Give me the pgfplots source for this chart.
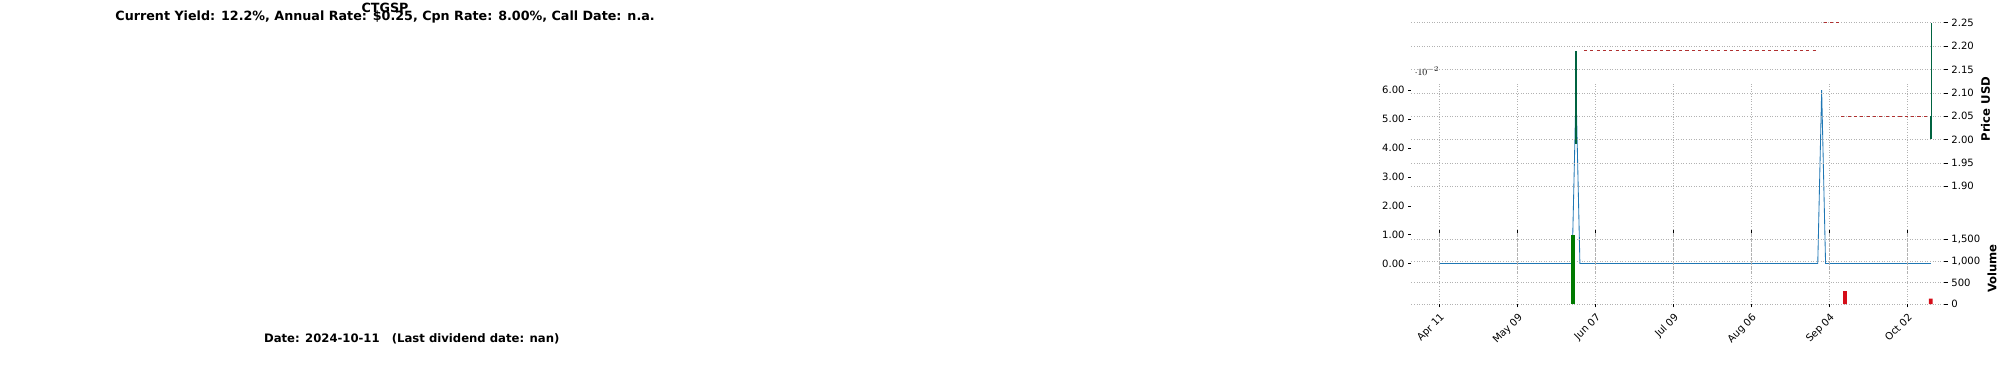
\documentclass[border=0pt]{standalone}
\usepackage{pgfplots}
\pgfplotsset{compat=1.18}
\usepackage{fontspec}
\setmainfont{DejaVu Sans}
\definecolor{myblue}{HTML}{1F77B4}
\definecolor{candle}{HTML}{006340}
\definecolor{volg}{HTML}{007A00}
\definecolor{volr}{HTML}{D50D18}
\definecolor{dred}{HTML}{B03030}
\begin{document}
\begin{tikzpicture}[x=0.36pt,y=0.36pt]
\path (0,0) rectangle (2000,1000);
\pgfplotsset{every axis/.append style={scale only axis, width=503.3pt,
  axis line style={draw=none}, tick align=outside, major tick length=3pt,
  tick style={black,line width=0.4pt},
  grid style={gray!60,dotted,line width=0.4pt},
  xmin=-7.2, xmax=129.5, xtick={0,20,...,120},
  ticklabel style={font=\fontsize{9.5}{11}\selectfont},
  /pgf/number format/assume math mode=true}}
% yield axis
\begin{axis}[at={(362,380)},anchor=south west,height=180pt,
  ymin=-0.003, ymax=0.063, ytick={0,0.01,0.02,0.03,0.04,0.05,0.06},
  yticklabel style={/pgf/number format/fixed,/pgf/number format/fixed zerofill,/pgf/number format/precision=2},
  xmajorgrids, xticklabels={}, xtick style={draw=none}, axis y line*=left]
\addplot[myblue,line width=0.8pt] coordinates {(0,0)(34,0)(35,0.06)(36,0)(97,0)(98,0.06)(99,0)(126,0)};
\end{axis}
% price axis
\begin{axis}[at={(362,380)},anchor=south west,height=180pt,
  ymin=1.861, ymax=2.269, ytick={1.90,1.95,2.00,2.05,2.10,2.15,2.20,2.25},
  yticklabel style={/pgf/number format/fixed,/pgf/number format/fixed zerofill,/pgf/number format/precision=2},
  ymajorgrids, axis y line*=right, xticklabels={}, xtick style={draw=none},
  ylabel={\bfseries Price USD}, ylabel style={font=\fontsize{11}{13}\selectfont}]
\addplot[dred,dashed,line width=0.4pt] coordinates {(37,2.19)(97,2.19)};
\addplot[dred,dashed,line width=0.4pt] coordinates {(98.5,2.25)(102.5,2.25)};
\addplot[dred,dashed,line width=0.4pt] coordinates {(103,2.05)(125,2.05)};
\addplot[candle,line width=2.2pt] coordinates {(35,1.99)(35,2.19)};
\addplot[candle,line width=0.5pt] coordinates {(126,2.05)(126,2.25)};
\addplot[candle,line width=2.2pt] coordinates {(126,2.00)(126,2.05)};
\end{axis}
% volume axis
\begin{axis}[at={(362,180)},anchor=south west,height=67.3pt,
  ymin=0, ymax=1650, ytick={0,500,1000,1500}, ymajorgrids, xmajorgrids,
  axis y line*=right, ylabel={\bfseries Volume}, ylabel style={font=\fontsize{11}{13}\selectfont},
  xticklabels={Apr 11,May 09,Jun 07,Jul 09,Aug 06,Sep 04,Oct 02},
  xticklabel style={rotate=45,anchor=north east},
  ybar, bar width=3.6pt]
\addplot[fill=volg,draw=none] coordinates {(35,1600)};
\addplot[fill=volr,draw=none,bar shift=0pt] coordinates {(104,300)(126,130)};
\end{axis}
\node[font=\bfseries\fontsize{12}{14}\selectfont] at (1010,980) {CTGSP};
\node[font=\bfseries\fontsize{12}{14}\selectfont] at (1010,958) {Current Yield: 12.2\%, Annual Rate: \$0.25, Cpn Rate: 8.00\%, Call Date: n.a.};
\node[font=\bfseries\fontsize{11}{13}\selectfont] at (1080,112) {Date: 2024-10-11\ \ \ (Last dividend date: nan)};
\end{tikzpicture}
\end{document}
